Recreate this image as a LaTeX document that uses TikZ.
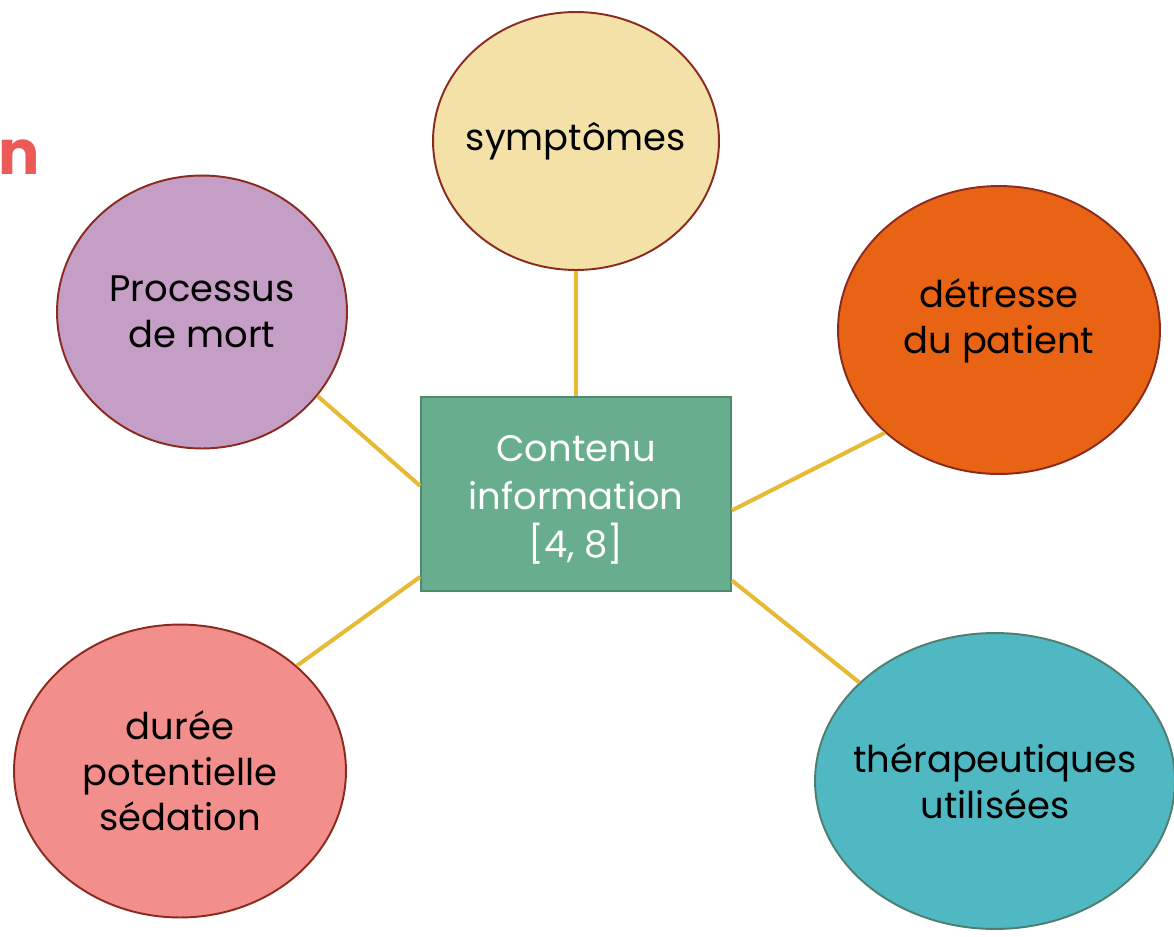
\documentclass[tikz,border=0pt]{standalone}
\usepackage{fontspec}
\setmainfont{Poppins}
\usepackage{tikz}
\usetikzlibrary{shapes,positioning}

\definecolor{rimred}{HTML}{8B2A1E}
\definecolor{rimgreen}{HTML}{4E7F6E}
\definecolor{linkgold}{HTML}{E6BA34}
\definecolor{fillsymp}{HTML}{F3E1A8}
\definecolor{fillproc}{HTML}{C49EC4}
\definecolor{filldet}{HTML}{E96314}
\definecolor{filldur}{HTML}{F28E8B}
\definecolor{fillther}{HTML}{4FB8C2}
\definecolor{fillbox}{HTML}{68AD8E}
\definecolor{rimbox}{HTML}{4E8A6E}
\definecolor{titlered}{HTML}{EC5A58}

\begin{document}
\begin{tikzpicture}[x=0.02cm, y=-0.02cm,
  bubble/.style={ellipse, draw=rimred, line width=1.1pt, inner sep=-1.2cm,
    align=center, font=\fontsize{21}{26}\selectfont},
  link/.style={draw=linkgold, line width=2.3pt}]

  \useasboundingbox (0,0) rectangle (1174,937);

  % Nodes
  \node[fill=fillbox, draw=rimbox, line width=1.1pt, minimum width=6.2cm,
    minimum height=3.88cm] (info) at (576,494) {};
  \node[text=white, align=center, font=\fontsize{21}{27.5}\selectfont]
    (infotxt) at (576,500) {Contenu\\information\\{}[4, 8]};
  \node[bubble, fill=fillsymp, minimum width=5.72cm, minimum height=5.16cm]
    (symp) at (576,141) {symptômes};
  \node[bubble, fill=fillproc, minimum width=5.8cm, minimum height=5.46cm]
    (proc) at (202,312) {Processus\\de mort};
  \node[bubble, fill=filldet, minimum width=6.44cm, minimum height=5.76cm,
    text depth=16pt] (det) at (999,330) {détresse\\du patient};
  \node[bubble, fill=filldur, minimum width=6.64cm, minimum height=5.86cm]
    (dur) at (180,771) {durée\\potentielle\\sédation};
  \node[bubble, fill=fillther, draw=rimgreen, minimum width=7.2cm,
    minimum height=5.92cm] (ther) at (995,781) {thérapeutiques\\utilisées};

  \node[anchor=east, text=titlered, font=\bfseries\fontsize{35}{40}\selectfont]
    (frag) at (46,157) {on};

  % Edges
  \path[link] (info.north) -- (symp.south);
  \path[link] (info.177) -- (proc.-36);
  \path[link] (info.-6) -- (det.222);
  \path[link] (info.-29) -- (ther.144);
  \path[link] (info.208) -- (dur.42);

\end{tikzpicture}
\end{document}
